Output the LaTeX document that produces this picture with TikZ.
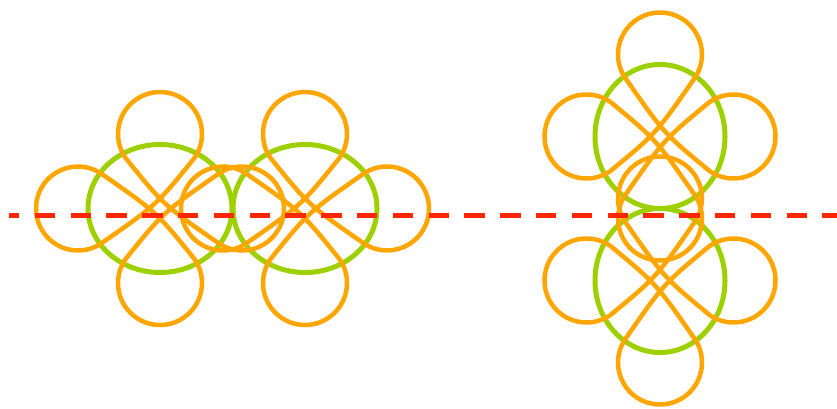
\documentclass[tikz,border=0pt]{standalone}
\usetikzlibrary{calc}
\definecolor{lobeorange}{RGB}{255,166,0}
\definecolor{ringgreen}{RGB}{158,208,0}
\definecolor{axisred}{RGB}{255,38,0}
\tikzset{
  lobe/.style={draw=lobeorange, line width=4.5pt, line join=round},
  ring/.style={draw=ringgreen, line width=5pt},
  axisline/.style={draw=axisred, line width=5.5pt, dash pattern=on 20.4pt off 15.4pt, dash phase=10pt},
}
% #1 centre, #2 distance of left/right loop centres, #3 distance of top/bottom loop centres, #4 loop radius
\newcommand{\flowercurve}[4]{%
  \begin{scope}[shift={#1}]
    \pgfmathsetmacro\fah{asin(#4/#2)}
    \pgfmathsetmacro\fav{asin(#4/#3)}
    \pgfmathsetmacro\fdh{180+2*\fah}
    \pgfmathsetmacro\fdv{180+2*\fav}
    \path[lobe] ($(0,#3)+(180+\fav:#4)$)
      arc[start angle=180+\fav, delta angle=-\fdv, radius=#4]
      .. controls (-3.5,3.5) and (-3.5,3.5) .. ($(-#2,0)+(270+\fah:#4)$)
      arc[start angle=270+\fah, delta angle=-\fdh, radius=#4]
      .. controls (-3.5,-3.5) and (-3.5,-3.5) .. ($(0,-#3)+(\fav:#4)$)
      arc[start angle=\fav, delta angle=-\fdv, radius=#4]
      .. controls (3.5,-3.5) and (3.5,-3.5) .. ($(#2,0)+(90+\fah:#4)$)
      arc[start angle=90+\fah, delta angle=-\fdh, radius=#4]
      .. controls (3.5,3.5) and (3.5,3.5) .. cycle;
  \end{scope}}
\begin{document}
\begin{tikzpicture}[x=1pt,y=1pt]
\useasboundingbox (0,0) rectangle (837,408);
\fill[white] (0,0) rectangle (837,408);
\coordinate (cL1) at (160,199.5);
\coordinate (cL2) at (305,199.5);
\coordinate (cR1) at (660,271.5);
\coordinate (cR2) at (660,127.5);
% green rings
\draw[ring] (cL1) ellipse [x radius=72, y radius=64];
\draw[ring] (cL2) ellipse [x radius=72, y radius=64];
\draw[ring] (cR1) ellipse [x radius=65, y radius=72];
\draw[ring] (cR2) ellipse [x radius=65, y radius=72];
% orange loop curves
\flowercurve{(cL1)}{82}{74.5}{42}
\flowercurve{(cL2)}{82}{74.5}{42}
\flowercurve{(cR1)}{73.5}{82}{42}
\flowercurve{(cR2)}{73.5}{82}{42}
% red dashed axis
\coordinate (axL) at (9,192.7);
\coordinate (axR) at (837,192.7);
\draw[axisline] (axL) -- (axR);
\end{tikzpicture}
\end{document}
